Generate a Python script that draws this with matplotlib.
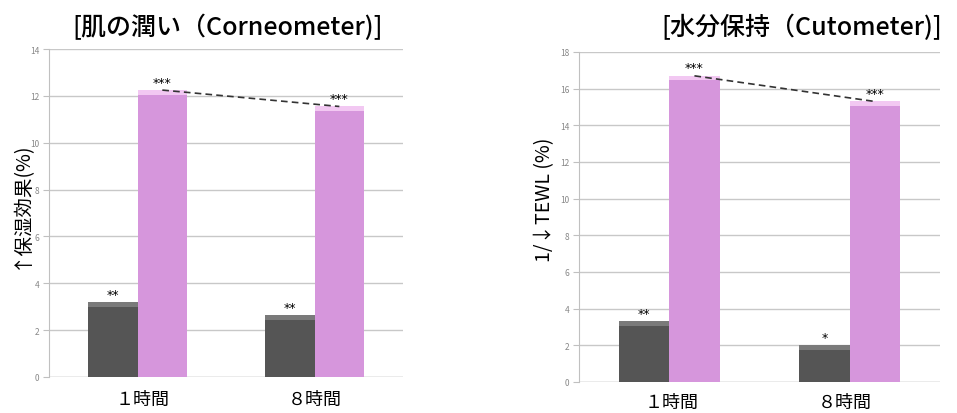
import matplotlib
matplotlib.use("Agg")
import matplotlib.pyplot as plt
import numpy as np

plt.rcParams['font.family'] = ['Noto Sans CJK JP', 'DejaVu Sans']

# data
categories = ['１時間', '８時間']

moist_title = '[肌の潤い（Corneometer)]'
moist_ylabel = '↑保湿効果(%)'
moist_ctrl = [3.2, 2.65]
moist_test = [12.25, 11.55]
moist_ctrl_sig = ['**', '**']
moist_test_sig = ['***', '***']

water_title = '[水分保持（Cutometer)]'
water_ylabel = '1/↓TEWL (%)'
water_ctrl = [3.3, 2.0]
water_test = [16.7, 15.3]
water_ctrl_sig = ['**', '*']
water_test_sig = ['***', '***']

DARK = '#555555'
DARK_TOP = '#7a7a7a'
PINK = '#d696dc'
PINK_TOP = '#f2c8f2'


def panel(ax, ctrl, test, csig, tsig, ymax):
    x = np.arange(len(categories))
    w = 0.28
    xc = x - w / 2
    xt = x + w / 2
    ax.bar(xc, ctrl, w, color=DARK, zorder=3)
    ax.bar(xt, test, w, color=PINK, zorder=3)
    # light strip at top of each bar (3d look)
    cap = ymax * 0.014
    ax.bar(xc, cap, w, bottom=np.array(ctrl) - cap, color=DARK_TOP, zorder=4)
    ax.bar(xt, cap, w, bottom=np.array(test) - cap, color=PINK_TOP, zorder=4)
    for xi, v, s in zip(xc, ctrl, csig):
        ax.annotate(s, (xi, v), textcoords='offset points', xytext=(0, 1),
                    ha='center', va='bottom', fontsize=9, family='DejaVu Sans')
    for xi, v, s in zip(xt, test, tsig):
        ax.annotate(s, (xi, v), textcoords='offset points', xytext=(0, 1),
                    ha='center', va='bottom', fontsize=9, family='DejaVu Sans')
    ax.plot(xt, test, ls=(0, (4, 2.5)), color='#333333', lw=1.2, zorder=5)

    ax.set_xlim(-0.5, 1.5)
    ax.set_ylim(0, ymax)
    ax.set_yticks(np.arange(0, ymax + 1, 2))
    ax.yaxis.grid(True, color='#c8c8c8', lw=1)
    ax.set_axisbelow(True)
    for sp in ['top', 'right', 'bottom']:
        ax.spines[sp].set_visible(False)
    ax.spines['left'].set_color('#c0c0c0')
    ax.tick_params(axis='y', colors='#c0c0c0', labelcolor='#888888',
                   labelsize=6, length=4, pad=3)
    ax.tick_params(axis='x', length=0)
    ax.set_xticks([])
    ax.axhline(0, color='#c8c8c8', lw=1)


fig = plt.figure(figsize=(9.57, 4.14), dpi=100)

ax1 = fig.add_axes([0.0512, 0.087, 0.370, 0.792])
panel(ax1, moist_ctrl, moist_test, moist_ctrl_sig, moist_test_sig, 14)

ax2 = fig.add_axes([0.605, 0.075, 0.377, 0.797])
panel(ax2, water_ctrl, water_test, water_ctrl_sig, water_test_sig, 18)

fig.text(228 / 957, 1 - 28 / 414, moist_title, ha='center', va='center',
         fontsize=18, fontweight='medium')
fig.text(802 / 957, 1 - 28 / 414, water_title, ha='center', va='center',
         fontsize=18, fontweight='medium')

fig.text(20 / 957, 1 - 205 / 414, moist_ylabel, rotation=90, ha='center', va='center', fontsize=14)
fig.text(545 / 957, 1 - 200 / 414, water_ylabel, rotation=90, ha='center', va='center', fontsize=14)

for xp, lab in zip([143, 315], categories):
    fig.text(xp / 957, 1 - 400 / 414, lab, ha='center', va='center', fontsize=13)
for xp, lab in zip([672, 845], categories):
    fig.text(xp / 957, 1 - 403 / 414, lab, ha='center', va='center', fontsize=13)

fig.savefig('out.png', dpi=100)
